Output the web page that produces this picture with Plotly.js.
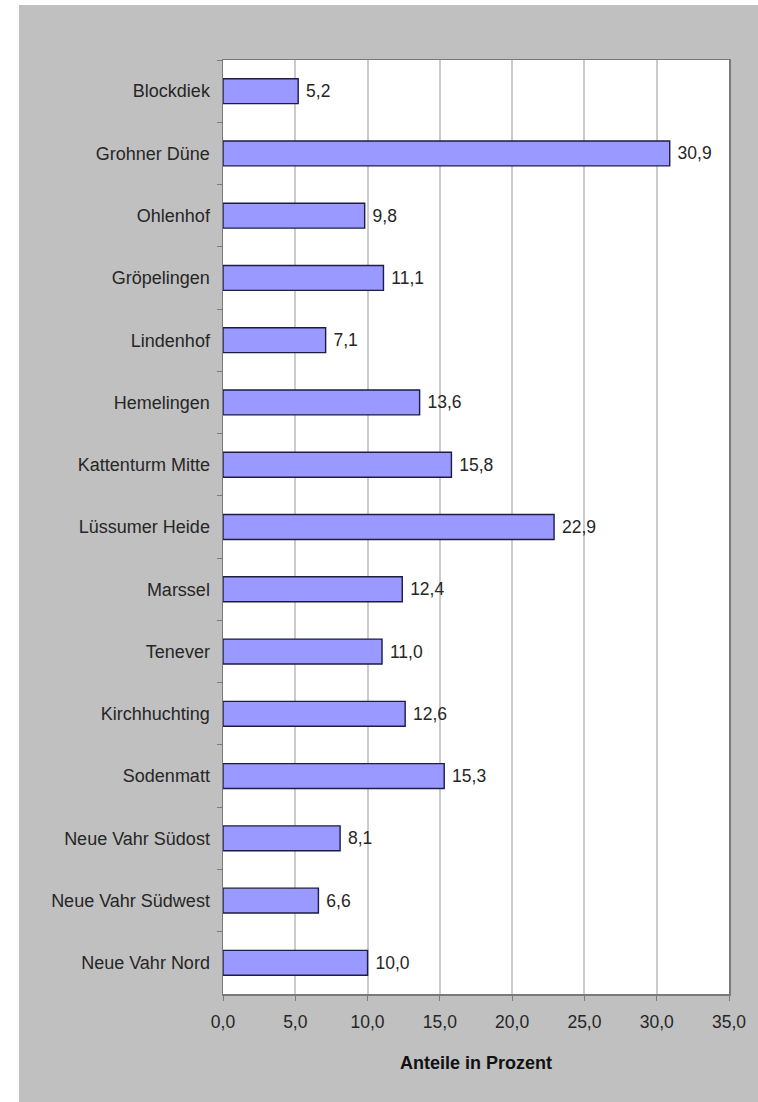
<!DOCTYPE html>
<html>
<head>
<meta charset="utf-8">
<script src="https://cdn.plot.ly/plotly-3.0.1.min.js"></script>
<style>
html, body { margin: 0; padding: 0; background: #ffffff; overflow: hidden; }
#chart { position: absolute; left: 19px; top: 5px; width: 739px; height: 1097px; }
</style>
</head>
<body>
<div id="chart"></div>
<script>
const districts = [
  "Blockdiek", "Grohner Düne", "Ohlenhof", "Gröpelingen", "Lindenhof",
  "Hemelingen", "Kattenturm Mitte", "Lüssumer Heide", "Marssel", "Tenever",
  "Kirchhuchting", "Sodenmatt", "Neue Vahr Südost", "Neue Vahr Südwest", "Neue Vahr Nord"
];
const shares = [5.2, 30.9, 9.8, 11.1, 7.1, 13.6, 15.8, 22.9, 12.4, 11.0, 12.6, 15.3, 8.1, 6.6, 10.0];
const xTicks = [0, 5, 10, 15, 20, 25, 30, 35];
const xTitle = "Anteile in Prozent";

const FONT = "Liberation Sans, Arial, sans-serif";

const trace = {
  type: "bar",
  orientation: "h",
  y: districts,
  x: shares,
  marker: { color: "#9999ff", line: { color: "#1c1c44", width: 1.4 } },
  text: shares.map(v => "\u00a0" + v.toFixed(1).replace(".", ",")),
  textposition: "outside",
  cliponaxis: false,
  textfont: { family: FONT, size: 17.5, color: "#262626" },
  hoverinfo: "skip"
};

const layout = {
  width: 739,
  height: 1097,
  paper_bgcolor: "#c0c0c0",
  plot_bgcolor: "#ffffff",
  margin: { l: 204, r: 29, t: 55, b: 108 },
  bargap: 0.6,
  showlegend: false,
  font: { family: FONT, size: 17.5, color: "#262626" },
  separators: ",.",
  xaxis: {
    range: [0, 35],
    tickvals: xTicks,
    ticktext: xTicks.map(v => v.toFixed(1).replace(".", ",")),
    showgrid: true,
    gridcolor: "#cccccc",
    gridwidth: 2,
    zeroline: false,
    showline: true,
    linecolor: "#7a7a7a",
    linewidth: 1.5,
    mirror: true,
    ticks: "outside",
    ticklen: 5,
    tickcolor: "#7a7a7a",
    ticklabelstandoff: 6,
    tickfont: { size: 17.5, color: "#262626" },
    title: { text: "<b>" + xTitle + "</b>", font: { size: 18, color: "#111111" }, standoff: 26 }
  },
  yaxis: {
    type: "category",
    autorange: "reversed",
    showgrid: false,
    zeroline: false,
    showline: true,
    linecolor: "#7a7a7a",
    linewidth: 1.5,
    mirror: true,
    ticks: "outside",
    tickson: "boundaries",
    ticklen: 5,
    tickcolor: "#7a7a7a",
    ticklabelstandoff: 8,
    tickfont: { size: 18, color: "#262626" }
  }
};

Plotly.newPlot("chart", [trace], layout, { displayModeBar: false, staticPlot: true });
</script>
</body>
</html>
